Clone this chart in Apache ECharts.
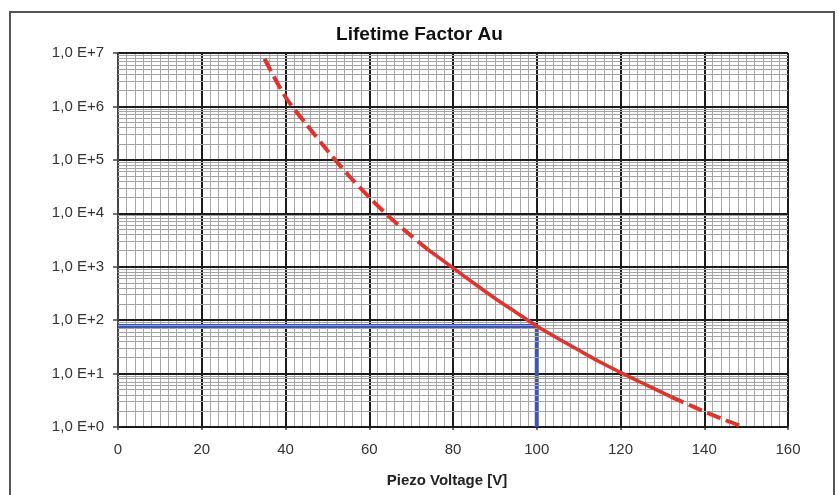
<!DOCTYPE html>
<html><head><meta charset="utf-8">
<script src="https://cdn.jsdelivr.net/npm/echarts@6/dist/echarts.min.js"></script>
<style>
html,body{margin:0;padding:0;background:#fff;}
#wrap{position:relative;width:839px;height:495px;overflow:hidden;background:#fff;}
#chart{position:absolute;left:0;top:0;width:839px;height:495px;}
#frame{position:absolute;left:9px;top:11px;width:822px;height:530px;border:2px solid #555;pointer-events:none;}
</style>
</head><body>
<div id="wrap"><div id="chart"></div><div id="frame"></div></div>
<script>
// Lifetime factor curve
const voltage = [35, 40, 45, 50, 55, 60, 65, 70, 74, 80, 85, 90, 95, 100, 105, 110, 115, 120, 125, 132, 135, 140, 145, 149.5];
const factor  = [7.8e6, 1.5e6, 4.6e5, 1.5e5, 5.2e4, 2.0e4, 8.3e3, 3.8e3, 2.1e3, 950, 490, 257, 141, 78, 46, 27.5, 16.6, 10.5, 6.8, 3.7, 2.9, 1.95, 1.35, 1.0];
// solid part of the curve (between these voltages), dashed elsewhere
const solidFrom = 74;
const solidTo = 132;
// blue reading marker
const markerVoltage = 100;
const markerFactor = 78;
// tick labels
const xTickLabels = ['0', '20', '40', '60', '80', '100', '120', '140', '160'];
const yTickLabels = ['1,0 E+0', '1,0 E+1', '1,0 E+2', '1,0 E+3', '1,0 E+4', '1,0 E+5', '1,0 E+6', '1,0 E+7'];

const pts = voltage.map((v, i) => [v, factor[i]]);
const dashedA = pts.filter(p => p[0] <= solidFrom);
const solid = pts.filter(p => p[0] >= solidFrom && p[0] <= solidTo);
const dashedB = pts.filter(p => p[0] >= solidTo);

// log-paper minor grid values (2..9 per decade)
const minorY = [];
for (let k = 0; k < 7; k++) {
  for (let m = 2; m <= 9; m++) minorY.push(m * Math.pow(10, k));
}

const FONT = 'Liberation Sans, Arial, sans-serif';
const RED = '#e2322b';
const chart = echarts.init(document.getElementById('chart'), null, {renderer: 'canvas'});
chart.setOption({
  animation: false,
  backgroundColor: '#fff',
  title: {
    text: 'Lifetime Factor Au',
    left: 'center',
    top: 25,
    padding: [0, 0, 0, 6],
    textStyle: {fontFamily: FONT, fontSize: 19, fontWeight: 'bold', color: '#111'}
  },
  grid: {left: 118, right: 51, top: 53, bottom: 68},
  xAxis: {
    type: 'value', min: 0, max: 160, interval: 20, z: 2,
    name: 'Piezo Voltage [V]', nameLocation: 'middle', nameGap: 46,
    nameTextStyle: {fontFamily: FONT, fontSize: 15, fontWeight: 'bold', color: '#222', padding: [0, 12, 0, 0]},
    axisLine: {show: true, lineStyle: {color: '#444', width: 2}},
    axisTick: {show: true, length: 3, lineStyle: {color: '#444', width: 1.5}},
    axisLabel: {
      fontFamily: FONT, fontSize: 15, color: '#333', margin: 15,
      formatter: v => xTickLabels[Math.round(v / 20)] ?? ''
    },
    splitLine: {show: true, lineStyle: {color: '#1c1c1c', width: 2}},
    minorTick: {show: false, splitNumber: 10},
    minorSplitLine: {show: true, lineStyle: {color: '#a8a8a8', width: 1}}
  },
  yAxis: {
    type: 'log', logBase: 10, min: 1, max: 1e7, splitNumber: 7, z: 3,
    axisLine: {show: true, lineStyle: {color: '#444', width: 2}},
    axisTick: {show: true, length: 5, lineStyle: {color: '#444', width: 1.5}},
    axisLabel: {
      fontFamily: FONT, fontSize: 15, color: '#333', margin: 14,
      formatter: v => yTickLabels[Math.round(Math.log10(v))] ?? ''
    },
    splitLine: {show: true, lineStyle: {color: '#1c1c1c', width: 2}}
  },
  series: [
    {
      type: 'line', data: [], z: 1, silent: true,
      markLine: {
        silent: true, symbol: ['none', 'none'], animation: false,
        label: {show: false},
        lineStyle: {color: '#a3a3a3', width: 1, type: 'solid'},
        emphasis: {disabled: true},
        data: minorY.map(v => ({yAxis: v}))
      }
    },
    {
      type: 'line', z: 4, symbol: 'none', silent: true,
      data: [[0, markerFactor], [markerVoltage, markerFactor], [markerVoltage, 1]],
      lineStyle: {color: '#3f54b3', width: 4}
    },
    {
      type: 'line', z: 5, symbol: 'none', smooth: 0.3, silent: true,
      data: dashedA, lineStyle: {color: RED, width: 4, type: [14, 6]}
    },
    {
      type: 'line', z: 5, symbol: 'none', smooth: 0.3, silent: true,
      data: solid, lineStyle: {color: RED, width: 3.5, type: 'solid'}
    },
    {
      type: 'line', z: 5, symbol: 'none', smooth: 0.3, silent: true,
      data: dashedB, lineStyle: {color: RED, width: 4, type: [14, 6]}
    }
  ]
});
</script>
</body></html>
